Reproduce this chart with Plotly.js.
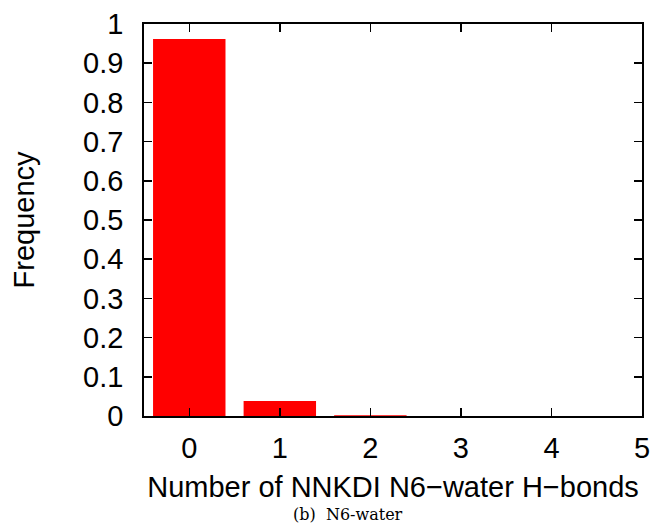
<!DOCTYPE html>
<html>
<head>
<meta charset="utf-8">
<script src="https://cdn.plot.ly/plotly-3.0.1.min.js"></script>
<style>html,body{margin:0;padding:0;background:#fff;}#plot{width:658px;height:527px;}</style>
</head>
<body>
<div id="plot"></div>
<script>
var hbondCounts = [0, 1, 2, 3, 4];
var frequency = [0.962, 0.038, 0.002, 0, 0];
var xTicks = [0, 1, 2, 3, 4, 5];
var yTicks = [0, 0.1, 0.2, 0.3, 0.4, 0.5, 0.6, 0.7, 0.8, 0.9, 1];
var xTitle = "Number of NNKDI N6\u2212water H\u2212bonds";
var yTitle = "Frequency";
var caption = "(b)  N6-water";

var fontFam = "Liberation Sans, Arial, Helvetica, sans-serif";
var data = [{
  type: 'bar',
  x: hbondCounts,
  y: frequency,
  width: 0.8,
  marker: {color: '#ff0000', line: {width: 0}},
  hoverinfo: 'none'
}];
var layout = {
  width: 658, height: 527,
  margin: {l: 143.5, r: 16.3, t: 24.3, b: 111.3, pad: 0},
  paper_bgcolor: '#fff', plot_bgcolor: '#fff',
  showlegend: false,
  font: {family: fontFam, size: 29, color: '#000'},
  xaxis: {
    range: [-0.5, 5], tickvals: xTicks, ticktext: xTicks.map(String),
    ticks: 'inside', ticklen: 8, tickwidth: 1.5, tickcolor: '#000',
    ticklabelstandoff: 5,
    showline: true, linewidth: 1.8, linecolor: '#000', mirror: 'ticks',
    showgrid: false, zeroline: false,
    tickfont: {family: fontFam, size: 29},
    title: {text: xTitle, font: {family: fontFam, size: 29}, standoff: 14}
  },
  yaxis: {
    range: [0, 1], tickvals: yTicks, ticktext: yTicks.map(String),
    ticks: 'inside', ticklen: 8, tickwidth: 1.5, tickcolor: '#000',
    ticklabelstandoff: 13,
    showline: true, linewidth: 1.8, linecolor: '#000', mirror: 'ticks',
    showgrid: false, zeroline: false,
    tickfont: {family: fontFam, size: 29},
    title: {text: yTitle, font: {family: fontFam, size: 29}, standoff: 40}
  },
  annotations: [{
    text: caption, xref: 'paper', yref: 'paper', x: 0.4105, y: -0.251,
    xanchor: 'center', yanchor: 'middle', showarrow: false,
    font: {family: 'DejaVu Serif, Liberation Serif, serif', size: 16, color: '#000'}
  }]
};
Plotly.newPlot('plot', data, layout, {staticPlot: true, displayModeBar: false});
</script>
</body>
</html>
